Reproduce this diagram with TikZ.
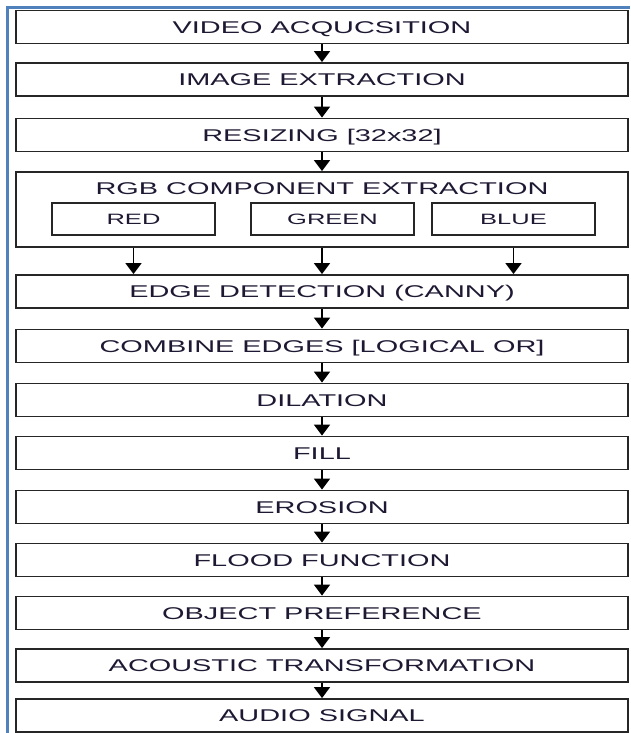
\documentclass[tikz,border=0pt]{standalone}
\usepackage{fontspec}
\newfontfamily\flowfont[FakeStretch=1.7]{Liberation Sans}
\usetikzlibrary{arrows.meta}
\definecolor{frameblue}{RGB}{79,129,189}
\definecolor{labeltxt}{RGB}{30,24,50}

\begin{document}
\begin{tikzpicture}[x=1pt, y=-1pt, >={Triangle[length=11pt,width=16pt]},
	every node/.style={font=\flowfont\fontsize{17}{20}\selectfont, text=labeltxt},
	stage/.style={draw=black!85, line width=1.8pt, minimum width=612pt, minimum height=33pt, inner sep=0pt, text height=12.2pt, text depth=0pt},
	chan/.style={stage, minimum width=163pt, minimum height=32pt, font=\flowfont\fontsize{15}{18}\selectfont, text height=10.8pt}]
	\useasboundingbox (0,0) rectangle (630,733);
	\draw[frameblue, line width=3pt] (7,733) -- (7,8) -- (630,8);
	\foreach \n/\y/\t in {s1/27/VIDEO ACQUCSITION, s2/79.5/IMAGE EXTRACTION, s3/135/RESIZING [32x32],
		edge/291.5/EDGE DETECTION (CANNY), comb/346/COMBINE EDGES [LOGICAL OR], dil/400/DILATION, fill/453/FILL,
		ero/507/EROSION, flood/560/FLOOD FUNCTION, obj/613/OBJECT PREFERENCE, acou/665.5/ACOUSTIC TRANSFORMATION, audio/715.5/AUDIO SIGNAL}
		{\node[stage] (\n) at (322,\y) {\t};}
	\node[stage, minimum height=75pt] (rgb) at (322,209.5) {};
	\node[inner sep=0pt] (rgbt) at (322,189) {RGB COMPONENT EXTRACTION};
	\node[chan] (red) at (133.5,219) {RED};
	\node[chan] (green) at (332.5,219) {GREEN};
	\node[chan] (blue) at (513.5,219) {BLUE};
	\foreach \a/\b in {s1/s2, s2/s3, s3/rgb, edge/comb, comb/dil, dil/fill, fill/ero, ero/flood, flood/obj, obj/acou, acou/audio}
		{\draw[->, line width=1.8pt] (\a.south) -- (\b.north);}
	\foreach \c in {red, blue} {\draw[->, line width=1.8pt] (rgb.south -| \c) -- (edge.north -| \c);}
	\draw[->, line width=1.8pt] (rgb.south) -- (edge.north);
\end{tikzpicture}
\end{document}
